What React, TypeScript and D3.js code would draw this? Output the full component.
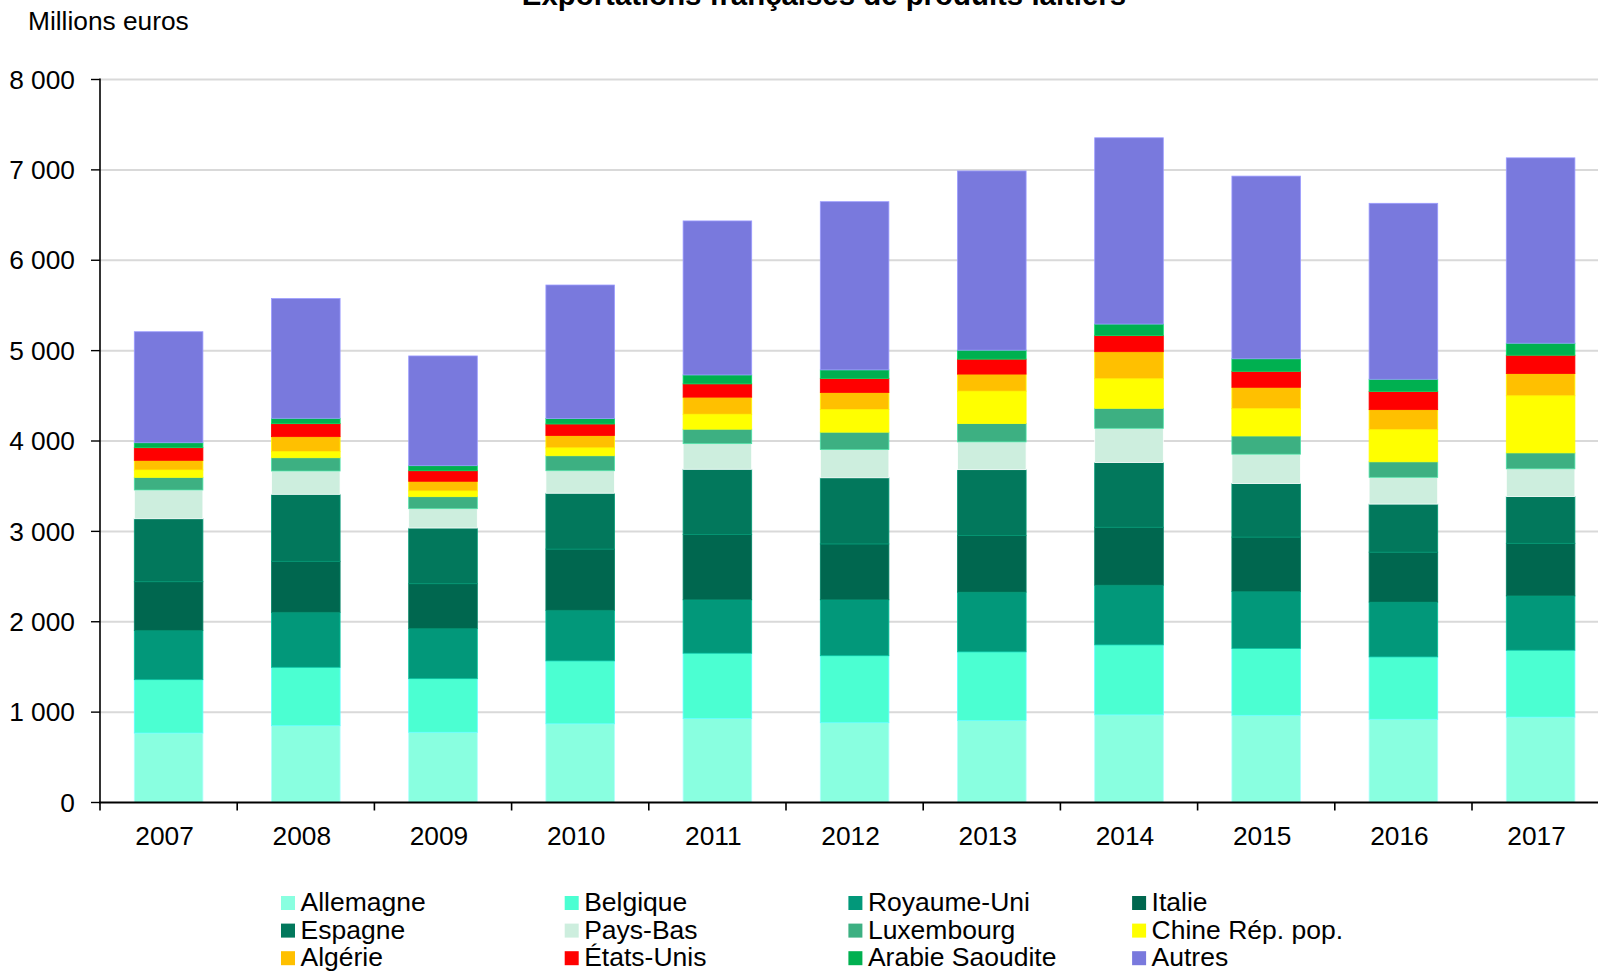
import React from "react";
import * as d3 from "d3";

const years = ["2007", "2008", "2009", "2010", "2011", "2012", "2013", "2014", "2015", "2016", "2017"];

const seriesNames = [
  "Allemagne", "Belgique", "Royaume-Uni", "Italie",
  "Espagne", "Pays-Bas", "Luxembourg", "Chine Rép. pop.",
  "Algérie", "États-Unis", "Arabie Saoudite", "Autres",
];

const seriesColors = [
  "#89FFE0", "#4BFFD2", "#02987A", "#00674F",
  "#02785C", "#CDEEDE", "#3DB082", "#FFFF00",
  "#FFC000", "#FF0000", "#00B050", "#7979DD",
];

const allemagne = [769, 850, 777, 871, 930, 883, 907, 970, 965, 921, 945];
const belgique = [590, 646, 593, 696, 722, 741, 760, 774, 740, 690, 740];
const royaumeUni = [546, 609, 557, 560, 591, 619, 661, 661, 631, 607, 601];
const italie = [538, 564, 494, 677, 722, 618, 628, 641, 601, 552, 582];
const espagne = [697, 741, 616, 618, 722, 732, 727, 715, 592, 532, 517];
const paysBas = [318, 258, 214, 249, 284, 312, 307, 379, 325, 296, 307];
const luxembourg = [140, 147, 133, 166, 160, 193, 203, 222, 202, 172, 177];
const chine = [81, 67, 63, 87, 165, 250, 358, 326, 301, 355, 631];
const algerie = [107, 166, 107, 136, 189, 189, 189, 300, 237, 222, 246];
const etatsUnis = [140, 144, 117, 128, 147, 156, 166, 178, 177, 202, 203];
const arabie = [55, 59, 56, 60, 99, 94, 99, 128, 139, 134, 133];
const autres = [1228, 1325, 1214, 1478, 1704, 1861, 1983, 2061, 2021, 1947, 2051];

const seriesValues = [
  allemagne, belgique, royaumeUni, italie, espagne, paysBas,
  luxembourg, chine, algerie, etatsUnis, arabie, autres,
];

const yTicks = [0, 1000, 2000, 3000, 4000, 5000, 6000, 7000, 8000];

const W = 1598;
const H = 971;
const FONT = "'Liberation Sans', Arial, sans-serif";

export default function App() {
  const left = 100;
  const step = 137.2;
  const x = d3
    .scaleBand<string>()
    .domain(years)
    .range([left, left + step * years.length])
    .paddingInner(0.5)
    .paddingOuter(0.25);
  const y = d3.scaleLinear().domain([0, 8000]).range([802.5, 79.5]);

  const rows = years.map((yr, i) => {
    const r: any = { year: yr };
    seriesNames.forEach((s, k) => (r[s] = seriesValues[k][i]));
    return r;
  });
  const stacked = d3.stack<any>().keys(seriesNames)(rows);

  const fmt = (v: number) => d3.format(",")(v).replace(/,/g, " ");

  return (
    <svg
      width={W}
      height={H}
      style={{ position: "absolute", left: 0, top: 0, display: "block", background: "#fff" }}
      fontFamily={FONT}
    >
      {/* gridlines */}
      {yTicks.slice(1).map((t) => (
        <line key={t} x1={left} x2={W} y1={y(t)} y2={y(t)} stroke="#d9d9d9" strokeWidth={2} />
      ))}
      {/* bars */}
      {stacked.map((layer, k) => (
        <g key={seriesNames[k]}>
          {layer.map((d, i) => {
            const col = seriesColors[k];
            const br = d3.color(col)!.brighter(0.7).formatHex();
            return (
              <rect
                key={i}
                x={x(years[i])!}
                width={x.bandwidth()}
                y={y(d[1])}
                height={y(d[0]) - y(d[1])}
                fill={col}
                stroke={br}
                strokeWidth={0.8}
              />
            );
          })}
        </g>
      ))}
      {/* y axis */}
      <line x1={left} x2={left} y1={y(8000) - 1} y2={y(0)} stroke="#000" strokeWidth={1.6} />
      {yTicks.map((t) => (
        <g key={t}>
          <line x1={left - 9} x2={left} y1={y(t)} y2={y(t)} stroke="#000" strokeWidth={1.4} />
          <text x={75} y={y(t)} dy="0.35em" textAnchor="end" fontSize={26.3} fill="#000">
            {fmt(t)}
          </text>
        </g>
      ))}
      {/* x axis */}
      <line x1={left - 1} x2={W} y1={y(0)} y2={y(0)} stroke="#000" strokeWidth={2.2} />
      {d3.range(years.length + 1).map((i) => (
        <line
          key={i}
          x1={left + i * x.step()}
          x2={left + i * x.step()}
          y1={y(0)}
          y2={y(0) + 8}
          stroke="#000"
          strokeWidth={1.6}
        />
      ))}
      {years.map((yr) => (
        <text
          key={yr}
          x={x(yr)! + x.bandwidth() / 2 - 4}
          y={845}
          textAnchor="middle"
          fontSize={26.3}
          fill="#000"
        >
          {yr}
        </text>
      ))}
      {/* titles */}
      <text x={824} y={5} textAnchor="middle" fontSize={29.4} fontWeight="bold" fill="#000">
        Exportations françaises de produits laitiers
      </text>
      <text x={28} y={29.5} fontSize={26.3} fill="#000">
        Millions euros
      </text>
      {/* legend */}
      {seriesNames.map((s, k) => {
        const col = k % 4;
        const row = Math.floor(k / 4);
        const sx = 281 + col * 283.7;
        const sy = 896 + row * 27.6;
        return (
          <g key={s}>
            <rect x={sx} y={sy} width={14} height={14} fill={seriesColors[k]} />
            <text x={sx + 19.5} y={sy + 15} fontSize={26.5} fill="#000">
              {s}
            </text>
          </g>
        );
      })}
    </svg>
  );
}
